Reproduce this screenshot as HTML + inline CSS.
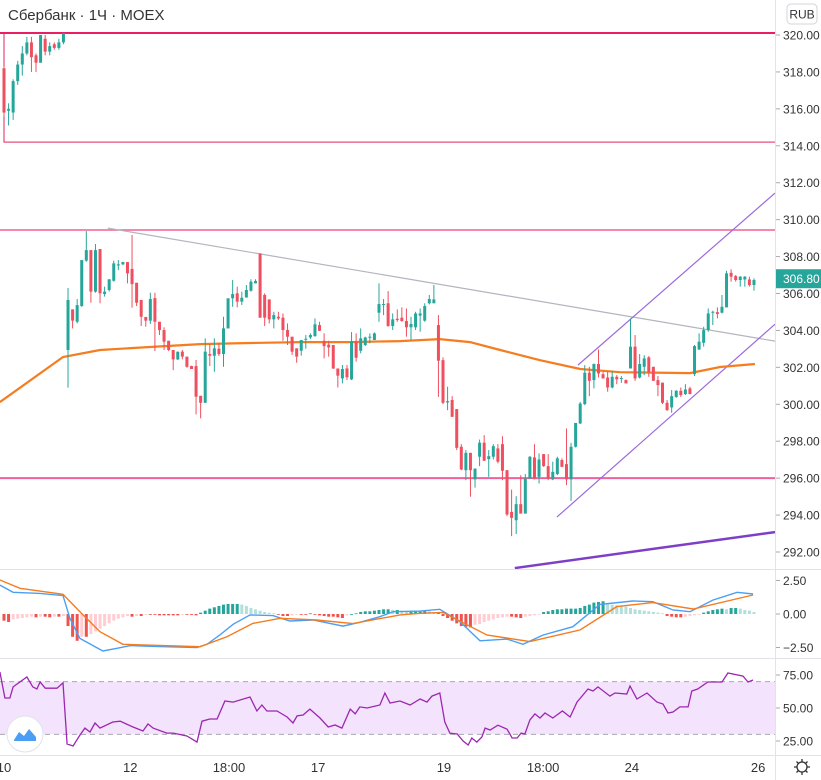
<!DOCTYPE html>
<html><head><meta charset="utf-8">
<style>
html,body{margin:0;padding:0;background:#fff;}
svg{display:block;font-family:"Liberation Sans","DejaVu Sans",sans-serif;}
</style></head>
<body>
<svg id="chart" width="821" height="780" viewBox="0 0 821 780" xmlns="http://www.w3.org/2000/svg">
<defs><clipPath id="mainClip"><rect x="0" y="0" width="775" height="569"/></clipPath>
<clipPath id="macdClip"><rect x="0" y="570" width="775" height="88"/></clipPath>
<clipPath id="rsiClip"><rect x="0" y="659" width="775" height="96"/></clipPath></defs>
<rect x="0" y="0" width="821" height="780" fill="#fff"/>
<g id="main" clip-path="url(#mainClip)"></g>
<g id="macd" clip-path="url(#macdClip)"></g>
<g id="rsi" clip-path="url(#rsiClip)"></g>
<g id="axes"></g>
<text x="8" y="20" font-size="15" fill="#333">Сбербанк · 1Ч · MOEX</text>
<g><rect x="787" y="4" width="30" height="20" rx="4" fill="#fff" stroke="#d1d4dc"/><text x="802" y="18.5" font-size="12" fill="#333" text-anchor="middle">RUB</text></g>
<g><circle cx="25" cy="734" r="18" fill="#fff" stroke="#e0e3eb" stroke-width="1"/><path d="M14 740 L19 732 L24 736 L29 729 L36 737 L36 741 L14 741 Z" fill="#4a9ff5"/></g>
<g><circle cx="802" cy="767" r="5" fill="none" stroke="#333" stroke-width="1.3"/><path d="M802 759v3M802 772v3M794 767h3M807 767h3M796.5 761.5l2 2M805.5 770.5l2 2M796.5 772.5l2-2M805.5 763.5l2-2" stroke="#333" stroke-width="1.3"/></g>
</svg>
<script>
const opens=[318.2,315.9,315.8,317.5,318.4,319.0,319.6,318.9,318.5,319.8,319.1,319.5,319.3,319.6,
302.94,305.14,304.47,305.32,307.78,308.35,306.10,308.41,305.97,306.19,306.69,307.52,307.58,307.70,307.33,306.58,305.65,304.73,304.53,305.75,304.47,304.02,303.44,302.94,302.43,302.85,302.58,302.07,302.07,300.46,300.08,302.72,302.63,303.01,302.72,304.11,305.74,306.01,305.56,305.79,306.15,306.55,308.17,305.92,305.68,304.60,304.74,304.69,304.02,303.66,303.03,302.90,303.51,303.62,303.69,304.29,303.44,303.23,303.21,301.94,301.40,301.94,301.35,303.39,302.90,303.21,303.60,303.48,304.96,305.41,305.47,304.24,304.63,304.69,304.51,304.17,304.17,304.80,304.53,305.47,305.47,
304.29,302.39,300.10,300.23,299.74,297.70,296.43,297.37,295.93,297.16,297.92,297.03,297.16,297.61,297.84,296.43,294.17,293.72,294.59,294.08,295.98,297.12,296.07,297.30,296.65,295.93,296.22,296.98,296.76,295.93,297.70,298.96,300.01,301.71,301.31,302.18,301.63,301.45,300.91,301.49,301.38,301.31,301.94,303.12,301.45,302.03,302.54,302.03,301.31,301.17,300.08,299.83,300.40,300.73,300.55,300.86,301.63,302.97,303.33,304.02,304.96,304.99,304.96,305.25,307.12,306.94,306.73,306.76,306.76,306.46];
const highs=[318.3,316.3,317.6,318.6,319.4,319.9,319.9,319.0,320.0,320.0,319.6,319.6,319.8,320.1,
306.3,305.14,305.70,307.81,309.38,308.35,308.68,308.41,306.37,306.77,307.78,307.81,307.72,307.70,309.17,306.58,305.65,304.73,306.04,306.04,304.47,304.17,303.44,302.94,302.85,302.94,302.58,302.09,302.40,300.46,303.57,303.26,303.57,303.33,304.74,305.74,306.73,306.37,306.10,306.46,306.77,306.77,308.17,306.01,305.68,305.01,305.01,304.92,304.38,303.66,303.03,303.48,303.75,303.84,304.65,304.47,303.84,303.44,303.21,301.94,302.13,302.13,303.91,303.84,304.11,303.66,303.84,303.89,306.55,305.70,306.13,304.92,305.14,305.25,305.19,304.74,305.01,305.19,305.47,305.92,306.46,
304.83,302.54,300.95,300.44,299.74,297.84,297.52,297.37,296.52,298.09,298.33,297.52,297.84,297.84,298.27,296.43,295.38,295.02,296.16,296.22,297.19,297.84,297.34,297.30,297.30,296.89,297.16,297.07,298.69,297.91,298.99,300.13,302.12,302.03,302.21,302.97,301.76,301.76,301.81,301.58,301.53,301.35,304.65,303.75,302.72,302.66,302.61,302.03,301.53,301.17,300.23,300.77,300.77,300.91,301.09,300.95,303.21,303.84,304.20,305.19,305.07,305.25,305.92,307.23,307.31,307.00,306.94,306.94,306.91,306.82];
const lows=[315.6,315.1,315.4,317.3,317.8,318.9,318.0,318.0,318.5,318.9,318.9,319.2,319.2,319.5,
300.9,304.11,304.38,305.28,307.72,305.50,306.04,305.47,305.83,306.10,306.64,307.27,307.54,306.55,305.23,305.32,304.24,304.20,304.35,302.88,303.75,302.94,302.88,301.85,302.40,302.43,301.98,301.91,299.45,299.24,300.08,302.07,301.76,302.61,302.03,304.11,305.28,305.25,305.38,305.77,306.10,306.55,304.69,304.24,304.38,304.11,304.56,303.44,303.21,302.67,302.25,302.63,303.01,303.53,303.66,303.97,302.49,302.58,301.91,300.91,301.13,301.31,301.31,302.31,302.76,303.15,303.30,303.48,304.47,304.83,304.20,304.02,304.47,304.47,303.66,303.48,304.02,303.93,304.47,305.41,305.47,
300.40,300.01,299.68,299.32,297.52,296.43,295.89,294.99,295.49,296.65,296.94,296.07,297.01,296.80,295.89,293.94,292.86,292.97,294.08,294.08,295.98,295.93,295.71,296.61,295.89,295.89,296.16,296.61,295.62,294.77,297.66,298.93,299.95,300.44,300.86,301.45,301.40,300.68,300.86,301.09,301.16,301.13,301.94,301.27,301.40,301.58,301.49,301.27,300.44,300.01,299.65,299.54,300.35,300.40,300.50,300.55,301.53,302.94,303.12,303.93,304.29,304.65,304.92,305.25,306.64,306.64,306.37,306.37,306.37,306.15];
const closes=[315.8,316.0,317.5,318.4,319.0,319.6,318.8,318.5,320.0,319.1,319.4,319.3,319.6,320.1,
305.65,304.53,305.37,307.81,308.35,306.10,308.35,306.01,306.10,306.77,307.63,307.58,307.70,307.09,306.51,305.50,304.74,304.53,305.70,304.47,304.02,303.39,302.94,302.43,302.85,302.58,302.03,301.91,300.41,300.08,302.85,302.63,303.03,302.72,304.11,305.74,305.97,305.56,305.77,306.19,306.64,306.68,304.69,304.69,304.60,304.83,304.65,304.02,303.66,302.85,302.58,303.48,303.55,303.75,304.33,303.98,303.15,303.08,301.94,301.55,301.91,301.46,303.41,302.52,303.57,303.62,303.66,303.84,305.43,305.43,304.24,304.60,304.56,304.51,304.17,304.35,304.92,304.92,305.32,305.70,305.68,
302.36,300.08,300.17,299.32,297.64,296.47,297.37,296.43,296.52,297.92,296.94,297.19,297.73,296.89,296.40,294.03,293.85,294.59,294.08,295.98,297.16,295.98,297.01,296.65,295.98,296.34,297.07,296.61,295.93,297.70,298.99,300.04,301.71,301.27,302.18,301.67,301.40,300.91,301.49,301.35,301.42,301.13,303.12,301.40,302.18,302.48,301.76,301.27,301.04,300.08,299.68,300.44,300.73,300.50,300.80,300.55,303.15,303.39,304.02,304.92,305.01,304.89,305.28,307.09,306.91,306.73,306.91,306.91,306.46,306.73];
const maIdx=[-0.9,12.9,21,31.9,42.9,53.8,64.7,75.7,86.6,95.3,101.9,108.5,117.2,126,134.7,150,156.6,164.2];
const maVal=[300.12,302.56,302.94,303.10,303.26,303.32,303.37,303.37,303.42,303.53,303.37,302.94,302.39,301.91,301.74,301.69,302.02,302.18];
const macdIdx=[-0.9,2,7.9,12.9,14.4,16.6,21.6,24.7,27.6,31.9,42.2,44.4,47.2,50.1,53.8,58.8,62.5,67.6,74.1,77.8,82.2,85.1,91,95.3,99.7,104.1,110,113.5,117.9,124.4,130.3,137.5,141.9,146.3,150,155,160.3,163.8];
const macdVal=[2.16,1.62,1.54,1.37,-0.32,-1.82,-2.76,-2.56,-2.36,-2.41,-2.51,-2.26,-1.57,-0.77,-0.07,-0.12,-0.52,-0.45,-0.9,-0.62,-0.2,0.17,0.22,0.35,-0.57,-2.0,-1.87,-2.26,-1.57,-0.95,0.72,0.97,0.92,0.3,0.17,1.04,1.62,1.49];
const sigIdx=[-0.9,3.5,12.9,16.6,21,26,42.9,48.8,54.4,60.4,68.4,76.3,86.6,91,96,105.6,115,126,134,141.9,150.7,163.8];
const sigVal=[2.54,1.92,1.47,0.17,-1.32,-2.26,-2.44,-1.69,-0.70,-0.32,-0.45,-0.72,-0.07,0.05,0.12,-1.57,-2.06,-1.19,0.55,0.85,0.37,1.42];
const histVal=[-0.5,-0.6,-0.4,-0.35,-0.3,-0.25,-0.2,-0.25,-0.2,-0.2,-0.25,-0.2,-0.2,-0.15,
-0.9,-1.7,-2.0,-1.7,-1.7,-1.5,-1.3,-1.1,-0.9,-0.7,-0.5,-0.35,-0.25,-0.15,-0.2,-0.15,-0.15,-0.05,-0.05,-0.05,-0.1,-0.1,-0.1,-0.1,-0.1,-0.05,-0.05,-0.05,-0.1,0.1,0.25,0.4,0.5,0.6,0.7,0.75,0.75,0.75,0.7,0.6,0.45,0.35,0.25,0.15,0.1,0.05,-0.05,-0.15,-0.15,-0.1,-0.05,-0.05,-0.05,0.05,-0.05,-0.1,-0.15,-0.2,-0.2,-0.25,-0.3,-0.1,0,0.05,0.15,0.2,0.2,0.25,0.3,0.35,0.35,0.3,0.3,0.25,0.2,0.2,0.2,0.2,0.25,0.2,0.15,0.15,
-0.15,-0.3,-0.5,-0.7,-0.9,-0.95,-1.0,-0.8,-0.75,-0.6,-0.5,-0.4,-0.3,-0.25,-0.2,-0.2,-0.25,-0.3,-0.2,-0.15,-0.1,-0.05,0.15,0.2,0.3,0.35,0.35,0.4,0.4,0.4,0.45,0.6,0.7,0.85,0.9,0.95,0.8,0.7,0.65,0.6,0.55,0.45,0.35,0.3,0.25,0.2,0.15,0.1,0.05,-0.15,-0.2,-0.25,-0.25,-0.2,-0.15,-0.1,-0.05,0.1,0.2,0.3,0.35,0.4,0.35,0.45,0.45,0.4,0.3,0.25,0.15];
const rsiIdx=[-0.9,0.2,1.3,2,5,6.3,7.2,7.9,9,11.6,12.9,13.8,15.1,16.6,17.7,18.8,19.9,21,23.8,25.4,28.2,30.4,31.5,32.6,35.6,37,40,42.2,43.3,45,46.6,48.3,50.1,53.8,55.3,56.4,57.5,59.7,61.9,63.2,64.1,65.4,66.9,69.1,70.9,72.4,73.9,75.7,76.8,77.8,79.4,82.2,83.3,84.4,86.6,88.8,91,92.5,93.6,95.3,96.4,97.5,99.1,100.4,101.5,102.3,103.4,104.5,105.2,106.3,108,110,111.1,112.2,113.1,113.9,115,116.1,117.2,118.3,120,122.1,123.8,125.3,127.7,128.8,129.9,132.5,133.6,136.2,136.9,138.4,140.6,142.8,144.1,145.2,146.3,147.8,149.6,150.4,151.7,153.9,157,158.3,161.6,162.7,163.8];
const rsiVal=[77.3,57.6,57.6,66,73.5,66,64.4,69.7,65,65,69,22.7,21.2,29.5,34.8,31.8,38.6,34.8,39.4,40,35.6,32.6,37.9,34.8,31,31,28.8,24.2,40,41.7,41.7,55.3,54.5,58.3,47.7,52.3,47.7,47.7,43.2,38.6,44,44.7,49.2,42.4,35.6,37.1,34.8,49.2,45.5,50.8,50,52.3,61.4,53.8,55.3,52.3,56.8,54.5,59,61.4,39.4,31,30.3,25,22,27.3,24.2,28,34.8,33.3,37,34,27.3,27.3,31,30.3,41,45.5,42.4,46.2,42.4,47.7,43.2,54.5,64.4,62.9,66,59,61.4,60.6,66.7,56.8,61.4,54.5,53,46.2,47,50.8,50.8,62.9,64.4,69.7,69.7,76.5,74.2,69.7,71.2];
const priceTicks=[320,318,316,314,312,310,308,306,304,302,300,298,296,294,292];
const macdTicks=[2.5,0,-2.5];
const rsiTicks=[75,50,25];
const timeLabels=["10","12","18:00","17","19","18:00","24","26"];
const timeIdx=[0,27.6,49.2,68.7,96.2,117.9,137.3,164.9];
const lastPrice=306.80;

const NS="http://www.w3.org/2000/svg";
const X=i=>4+i*4.573;
const Y=p=>35+(320-p)*18.464;
const YM=v=>614-v*13.4;
const YR=v=>708-(v-50)*1.32;
function mk(parent,tag,attrs){const e=document.createElementNS(NS,tag);for(const k in attrs)e.setAttribute(k,attrs[k]);parent.appendChild(e);return e;}
const main=document.getElementById('main'),macd=document.getElementById('macd'),rsi=document.getElementById('rsi'),axes=document.getElementById('axes');

let r=mk(main,'rect',{x:X(0),y:Y(320.11),width:800,height:Y(314.2)-Y(320.11),fill:'none',stroke:'#e0245e','stroke-width':1});


const hls=[[320.11,'#e91e63',2],[309.44,'#f06292',1.5],[296.0,'#f0609a',2]];
hls.forEach((h,k)=>{const l=mk(main,'line',{x1:0,x2:775,y1:Y(h[0]),y2:Y(h[0]),stroke:h[1],'stroke-width':h[2]});

});
const tls=[[22.7,309.54,168.6,303.42,'#b2b5be',1.2,'trend-line'],[125.5,302.12,168.6,311.44,'#9c6ade',1.2,'channel-upper'],[120.9,293.89,168.6,304.34,'#9c6ade',1.2,'channel-lower'],[111.7,291.13,168.6,293.08,'#7e3fc8',2.5,'support-trend-line']];
tls.forEach(t=>{const l=mk(main,'line',{x1:X(t[0]),y1:Y(t[1]),x2:X(t[2]),y2:Y(t[3]),stroke:t[4],'stroke-width':t[5]});

});

let d=maIdx.map((i,k)=>(k?'L':'M')+X(i).toFixed(1)+' '+Y(maVal[k]).toFixed(1)).join(' ');
const ma=mk(main,'path',{d:d,fill:'none',stroke:'#f57c1f','stroke-width':2.2});



closes.forEach((c,i)=>{const o=opens[i],up=c>=o,col=up?'#26a69a':'#ef4f5f';const x=X(i);
const g=mk(main,'g',{});


mk(g,'line',{x1:x,x2:x,y1:Y(highs[i]),y2:Y(lows[i]),stroke:col,'stroke-width':1});
const t=Y(Math.max(o,c)),b=Y(Math.min(o,c));
mk(g,'rect',{x:x-1.5,y:t,width:3,height:Math.max(1,b-t),fill:col});});

histVal.forEach((v,i)=>{const prev=i?histVal[i-1]:v;let col;
if(v>=0)col=v>=prev?'#26a69a':'#b2dfdb';else col=v<=prev?'#ef5350':'#ffcdd2';
const b=mk(macd,'rect',{x:X(i)-1.5,y:Math.min(YM(v),YM(0)),width:3,height:Math.max(0.8,Math.abs(YM(v)-YM(0))),fill:col});

});
d=macdIdx.map((i,k)=>(k?'L':'M')+X(i).toFixed(1)+' '+YM(macdVal[k]).toFixed(1)).join(' ');
const ml=mk(macd,'path',{d:d,fill:'none',stroke:'#4a9ff5','stroke-width':1.4});


d=sigIdx.map((i,k)=>(k?'L':'M')+X(i).toFixed(1)+' '+YM(sigVal[k]).toFixed(1)).join(' ');
const sl=mk(macd,'path',{d:d,fill:'none',stroke:'#f57c1f','stroke-width':1.4});



const band=mk(rsi,'rect',{x:0,y:YR(70),width:775,height:YR(30)-YR(70),fill:'#f3e3fc'});


[70,30].forEach(v=>{const l=mk(rsi,'line',{x1:0,x2:775,y1:YR(v),y2:YR(v),stroke:'#a8a8b0','stroke-dasharray':'5 4','stroke-width':1});

});
d=rsiIdx.map((i,k)=>(k?'L':'M')+X(i).toFixed(1)+' '+YR(rsiVal[k]).toFixed(1)).join(' ');
const rl=mk(rsi,'path',{d:d,fill:'none',stroke:'#9c27b0','stroke-width':1.3});



[[0,569.5,775,569.5],[0,658.5,775,658.5],[0,755.5,821,755.5],[775.5,0,775.5,780],[775,569.5,821,569.5],[775,658.5,821,658.5]].forEach(s=>{mk(axes,'line',{x1:s[0],y1:s[1],x2:s[2],y2:s[3],stroke:'#e0e3eb','stroke-width':1});});
function tick(y,label,name){mk(axes,'line',{x1:776,x2:780,y1:y,y2:y,stroke:'#aaa'});
const t=mk(axes,'text',{x:783,y:y+4.5,'font-size':12,fill:'#333'});t.textContent=label;

}
priceTicks.forEach(p=>tick(Y(p),p.toFixed(2),'price-tick-label'));
macdTicks.forEach(v=>tick(YM(v),(v<0?'\u2212':'')+Math.abs(v).toFixed(2),'macd-tick-label'));
rsiTicks.forEach(v=>tick(YR(v),v.toFixed(2),'rsi-tick-label'));
const lp=mk(axes,'rect',{x:776,y:Y(lastPrice)-9.5,width:45,height:19,fill:'#26a69a'});


const lt=mk(axes,'text',{x:783,y:Y(lastPrice)+4.5,'font-size':12,fill:'#fff'});lt.textContent=lastPrice.toFixed(2);
timeLabels.forEach((s,k)=>{const t=mk(axes,'text',{x:X(timeIdx[k]),y:772,'font-size':13,fill:'#333','text-anchor':'middle'});t.textContent=s;

});
</script>
</body></html>
